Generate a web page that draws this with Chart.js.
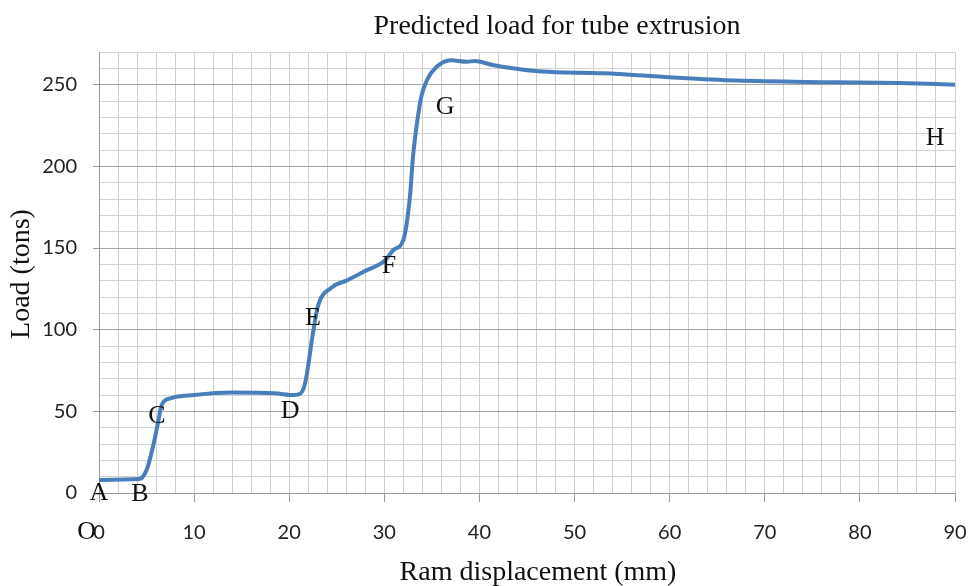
<!DOCTYPE html>
<html>
<head>
<meta charset="utf-8">
<script src="https://cdn.jsdelivr.net/npm/chart.js@4.4.0/dist/chart.umd.min.js"></script>
<style>
  html, body { margin: 0; padding: 0; background: #fff; }
</style>
</head>
<body>
<canvas id="loadChart" width="970" height="586"></canvas>
<script>
// ---------- DATA ----------

// ram displacement (mm) and predicted load (tons)
const ramDisp = [0, 4.2, 5.0, 5.7, 6.2, 6.6, 7.5, 10, 14, 18.5, 20.5, 21.2, 21.7, 22.5, 23.0, 24.5, 26, 28, 30, 31, 32, 32.7, 33.0, 33.4, 33.9, 34.5, 35.5, 37, 38.7, 39.5, 41.4, 43.5, 46.5, 53, 60, 67, 77, 84, 90];
const loadTons = [8, 8.5, 14, 29, 43, 54, 58, 60, 61.5, 61, 60, 61, 68, 98, 114, 126, 130, 136, 142, 149, 155, 182, 205, 225, 243, 253, 261, 265, 264, 264.5, 262, 260, 258, 257, 254.5, 252.5, 251.5, 251, 250];

// stage letters written on the plot (position in data units)
const markLetters = ['A', 'B', 'C', 'D', 'E', 'F', 'G', 'H', 'O'];
const markX = [0, 4.3, 6.1, 20.1, 22.5, 30.5, 36.4, 87.9, -1.3];
const markY = [0, -0.5, 47.2, 50.2, 107, 139, 236.4, 217.4, -23.9];

// labelled ticks
const xTickLabels = [0, 10, 20, 30, 40, 50, 60, 70, 80, 90];
const yTickLabels = [0, 50, 100, 150, 200, 250];

const serif = '"Liberation Serif", "Times New Roman", serif';

// ---------- TEXT PLUGIN ----------
const chartText = {
  id: 'chartText',
  afterDatasetsDraw(chart) {
    const ctx = chart.ctx;
    const xs = chart.scales.x, ys = chart.scales.y;
    ctx.save();
    ctx.fillStyle = '#111';
    ctx.textAlign = 'center';
    ctx.textBaseline = 'middle';
    ctx.font = '26px ' + serif;
    for (let i = 0; i < markLetters.length; i++) {
      ctx.fillText(markLetters[i], xs.getPixelForValue(markX[i]), ys.getPixelForValue(markY[i]));
    }
    // titles
    ctx.font = '28px ' + serif;
    ctx.fillText('Predicted load for tube extrusion', 557, 27);
    ctx.fillText('Ram displacement (mm)', 538, 573);
    ctx.translate(22, 274);
    ctx.rotate(-Math.PI / 2);
    ctx.fillText('Load (tons)', 0, 0);
    ctx.restore();
  }
};

// ---------- CHART ----------
var ctxLoad = document.getElementById('loadChart').getContext('2d');
var loadChart = new Chart(ctxLoad, {
  type: 'scatter',
  data: {
    datasets: [{
      label: 'Load',
      data: ramDisp.map((x, i) => ({ x: x, y: loadTons[i] })),
      showLine: true,
      borderColor: '#4a7ebb',
      borderWidth: 4,
      pointRadius: 0,
      cubicInterpolationMode: 'monotone',
      fill: false
    }]
  },
  options: {
    responsive: false,
    animation: false,
    layout: { padding: { left: 0, right: 15, top: 52, bottom: 0 } },
    plugins: {
      legend: { display: false },
      title: { display: false },
      tooltip: { enabled: false }
    },
    scales: {
      x: {
        type: 'linear',
        min: 0,
        max: 90,
        afterFit: (s) => { s.height = 93; s.paddingLeft = 0; s.paddingRight = 0; },
        border: { color: '#9a9a9a' },
        grid: {
          color: '#cfcfcf',
          tickLength: 9,
          tickColor: (c) => xTickLabels.includes(c.tick.value) ? '#9a9a9a' : 'rgba(0,0,0,0)'
        },
        ticks: {
          stepSize: 2,
          autoSkip: false,
          maxRotation: 0,
          padding: 19,
          color: '#222',
          font: { family: 'Lato', size: 20 },
          callback: (v) => xTickLabels.includes(v) ? String(v) : ''
        }
      },
      y: {
        min: 0,
        max: 270,
        afterFit: (s) => { s.width = 99; s.paddingTop = 0; s.paddingBottom = 0; },
        border: { color: '#9a9a9a' },
        grid: {
          color: (c) => yTickLabels.includes(c.tick.value) ? '#a8a8a8' : '#d2d2d2',
          tickLength: 6,
          tickColor: (c) => yTickLabels.includes(c.tick.value) ? '#9a9a9a' : 'rgba(0,0,0,0)'
        },
        ticks: {
          stepSize: 10,
          autoSkip: false,
          padding: 16,
          color: '#222',
          font: { family: 'Lato', size: 20 },
          callback: (v) => yTickLabels.includes(v) ? String(v) : ''
        }
      }
    }
  },
  plugins: [chartText]
});
</script>
</body>
</html>
